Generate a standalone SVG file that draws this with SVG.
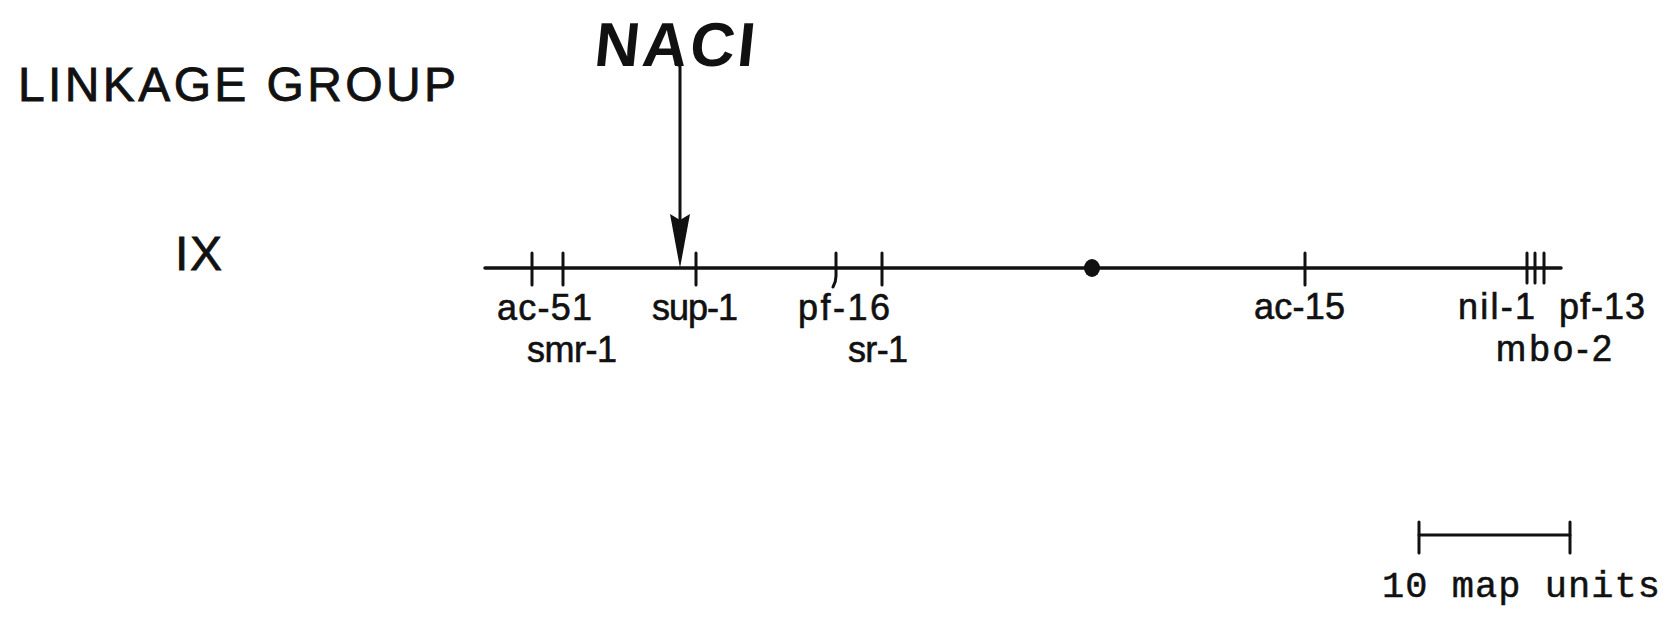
<svg xmlns="http://www.w3.org/2000/svg" width="1675" height="619" viewBox="0 0 1675 619">
  <style>
    .heading { font-family: "Liberation Sans", Arial, sans-serif; font-size: 48px; fill: #111; stroke: #111; stroke-width: 0.8; }
    .locus { font-family: "Liberation Sans", Arial, sans-serif; font-size: 36px; fill: #111; stroke: #111; stroke-width: 0.6; }
    .scale-text { font-family: "Liberation Mono", "Courier New", monospace; font-size: 37px; fill: #111; stroke: #111; stroke-width: 0.5; }
    .chrom { stroke: #111; stroke-width: 3.5; fill: none; stroke-linecap: round; }
    .tick { stroke: #111; stroke-width: 3; fill: none; stroke-linecap: round; }
  </style>

  <!-- titles -->
  <g id="title">
    <text class="heading" x="18" y="101" textLength="438" lengthAdjust="spacing">LINKAGE GROUP</text>
  </g>
  <g id="group-label">
    <text class="heading" x="175" y="270" font-size="50" stroke-width="1.4" textLength="47" lengthAdjust="spacing">IX</text>
  </g>
  <g id="naci-label">
    <text x="593" y="66" font-family="'Liberation Sans', Arial, sans-serif" font-size="62" font-weight="bold" fill="#111" textLength="160" lengthAdjust="spacing" transform="skewX(-6) translate(7 0)">NACI</text>
  </g>

  <!-- chromosome line, loci ticks and centromere -->
  <g id="chromosome">
    <line class="chrom" x1="485" y1="268" x2="1561" y2="268"/>
    <ellipse cx="1092" cy="268" rx="8" ry="9" fill="#111"/>
  </g>

  <g id="loci">
    <g id="ac-51">
      <line class="tick" x1="532" y1="253" x2="532" y2="285"/>
      <text class="locus" x="497" y="320" textLength="95" lengthAdjust="spacing">ac-51</text>
    </g>
    <g id="smr-1">
      <line class="tick" x1="563" y1="253" x2="563" y2="285"/>
      <text class="locus" x="527" y="362" textLength="90" lengthAdjust="spacing">smr-1</text>
    </g>
    <g id="sup-1">
      <line class="tick" x1="696" y1="253" x2="696" y2="285"/>
      <text class="locus" x="652" y="320" textLength="86" lengthAdjust="spacing">sup-1</text>
    </g>
    <g id="pf-16">
      <path class="tick" d="M836 253 L836 276 Q836 282 833 287"/>
      <text class="locus" x="798" y="320" textLength="92" lengthAdjust="spacing">pf-16</text>
    </g>
    <g id="sr-1">
      <line class="tick" x1="882" y1="253" x2="882" y2="285"/>
      <text class="locus" x="848" y="362" textLength="60" lengthAdjust="spacing">sr-1</text>
    </g>
    <g id="ac-15">
      <line class="tick" x1="1305" y1="253" x2="1305" y2="285"/>
      <text class="locus" x="1254" y="319" textLength="91" lengthAdjust="spacing">ac-15</text>
    </g>
    <g id="nil-1">
      <line class="tick" x1="1527" y1="253" x2="1527" y2="283"/>
      <text class="locus" x="1458" y="319" textLength="77" lengthAdjust="spacing">nil-1</text>
    </g>
    <g id="mbo-2">
      <line class="tick" x1="1535" y1="253" x2="1535" y2="283"/>
      <text class="locus" x="1496" y="361" textLength="116" lengthAdjust="spacing">mbo-2</text>
    </g>
    <g id="pf-13">
      <line class="tick" x1="1544" y1="253" x2="1544" y2="283"/>
      <text class="locus" x="1559" y="319" textLength="86" lengthAdjust="spacing">pf-13</text>
    </g>
  </g>

  <!-- arrow from NACI down to its map position -->
  <g id="connectors">
    <path d="M675 63 L680 66 L680 222" stroke="#111" stroke-width="3" fill="none"/>
    <polygon points="680,268 670,214 680,220 690,214" fill="#111"/>
  </g>

  <!-- scale bar -->
  <g id="scale-bar">
    <line class="tick" x1="1419" y1="535" x2="1570" y2="535"/>
    <line class="tick" x1="1419" y1="522" x2="1419" y2="553"/>
    <line class="tick" x1="1570" y1="522" x2="1570" y2="553"/>
    <text class="scale-text" x="1382" y="597" textLength="278" lengthAdjust="spacing">10 map units</text>
  </g>
</svg>
